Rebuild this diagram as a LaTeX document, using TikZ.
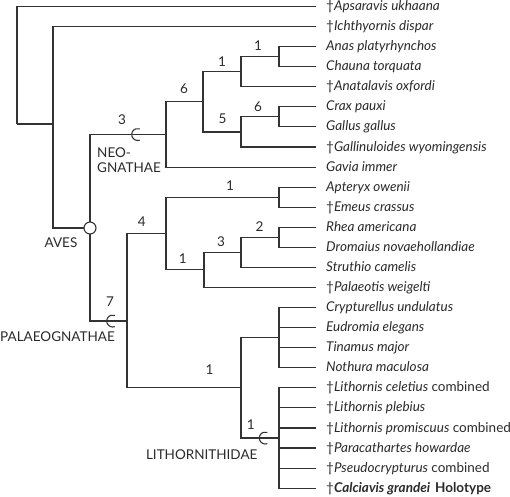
\documentclass[tikz,border=0pt]{standalone}
\usepackage{fontspec}
\setmainfont{Lato}
\definecolor{lc}{HTML}{333333}
\definecolor{tc}{HTML}{2A2A2A}
\begin{document}
\begin{tikzpicture}[x=1pt,y=-1pt,
  edge/.style={draw=lc, line width=1.1pt},
  leaf/.style={anchor=west, inner sep=0pt, text height=11pt, text depth=3pt, font=\fontsize{13.5}{15}\selectfont\itshape, text=tc},
  num/.style={inner sep=0pt, text=tc, font=\fontsize{13.5}{15}\selectfont},
  clade/.style={inner sep=0pt, text=tc, align=left, font=\fontsize{13.5}{15}\selectfont},
  avescircle/.style={circle, draw=lc, line width=1.1pt, fill=white, minimum size=12pt, inner sep=0pt},
  bracket/.style={draw=lc, line width=1.1pt}]
\useasboundingbox (0,0) rectangle (510,496);
% leaves
\node[leaf] (L0) at (326,6.5) {\upshape†\itshape Apsaravis ukhaana};
\node[leaf] (L1) at (326,26.6) {\upshape†\itshape Ichthyornis dispar};
\node[leaf] (L2) at (326,46.6) {Anas platyrhynchos};
\node[leaf] (L3) at (326,66.7) {Chauna torquata};
\node[leaf] (L4) at (326,86.8) {\upshape†\itshape Anatalavis oxfordi};
\node[leaf] (L5) at (326,106.9) {Crax pauxi};
\node[leaf] (L6) at (326,126.9) {Gallus gallus};
\node[leaf] (L7) at (326,147.0) {\upshape†\itshape Gallinuloides wyomingensis};
\node[leaf] (L8) at (326,167.1) {Gavia immer};
\node[leaf] (L9) at (326,187.1) {Apteryx owenii};
\node[leaf] (L10) at (326,207.2) {\upshape†\itshape Emeus crassus};
\node[leaf] (L11) at (326,227.3) {Rhea americana};
\node[leaf] (L12) at (326,247.3) {Dromaius novaehollandiae};
\node[leaf] (L13) at (326,267.4) {Struthio camelis};
\node[leaf] (L14) at (326,287.5) {\upshape†\itshape Palaeotis weigelti};
\node[leaf] (L15) at (326,307.6) {Crypturellus undulatus};
\node[leaf] (L16) at (326,327.6) {Eudromia elegans};
\node[leaf] (L17) at (326,347.7) {Tinamus major};
\node[leaf] (L18) at (326,367.8) {Nothura maculosa};
\node[leaf] (L19) at (326,387.8) {\upshape†\itshape Lithornis celetius\upshape\ combined};
\node[leaf] (L20) at (326,407.9) {\upshape†\itshape Lithornis plebius};
\node[leaf] (L21) at (326,428.0) {\upshape†\itshape Lithornis promiscuus\upshape\ combined};
\node[leaf] (L22) at (326,448.0) {\upshape†\itshape Paracathartes howardae};
\node[leaf] (L23) at (326,468.1) {\upshape†\itshape Pseudocrypturus\upshape\ combined};
\node[leaf] (L24) at (326,488.2) {\upshape†\bfseries\itshape Calciavis grandei\upshape\hspace{5pt}Holotype};
% internal nodes
\coordinate (root) at (17,124);
\coordinate (A1) at (53,124);
\coordinate (aves) at (90,228);
\coordinate (neo) at (166,134.5);
\coordinate (N1) at (203,101.8);
\coordinate (N2) at (241,71.7);
\coordinate (N3) at (279,56.65);
\coordinate (N4) at (241,131.95);
\coordinate (N5) at (279,116.9);
\coordinate (pal) at (127,321);
\coordinate (P1) at (166,233.6);
\coordinate (P2) at (279,197.2);
\coordinate (P3) at (204,269.9);
\coordinate (P4) at (241,252.4);
\coordinate (P5) at (279,237.3);
\coordinate (P6) at (241,387.9);
\coordinate (tin) at (279,337.7);
\coordinate (lith) at (279,438);
% edges
\path[edge] (root) |- ([xshift=-10pt]L0.west);
\path[edge] (root) -- (A1);
\path[edge] (A1) |- ([xshift=-10pt]L1.west);
\path[edge] (A1) |- (aves);
\path[edge] (aves) |- (neo);
\path[edge] (aves) |- (pal);
\path[edge] (neo) |- (N1);
\path[edge] (neo) |- ([xshift=-10pt]L8.west);
\path[edge] (N1) |- (N2);
\path[edge] (N1) |- (N4);
\path[edge] (N2) |- (N3);
\path[edge] (N2) |- ([xshift=-10pt]L4.west);
\path[edge] (N3) |- ([xshift=-10pt]L2.west);
\path[edge] (N3) |- ([xshift=-10pt]L3.west);
\path[edge] (N4) |- (N5);
\path[edge] (N4) |- ([xshift=-10pt]L7.west);
\path[edge] (N5) |- ([xshift=-10pt]L5.west);
\path[edge] (N5) |- ([xshift=-10pt]L6.west);
\path[edge] (pal) |- (P1);
\path[edge] (pal) |- (P6);
\path[edge] (P1) |- (P2);
\path[edge] (P1) |- (P3);
\path[edge] (P2) |- ([xshift=-10pt]L9.west);
\path[edge] (P2) |- ([xshift=-10pt]L10.west);
\path[edge] (P3) |- (P4);
\path[edge] (P3) |- ([xshift=-10pt]L14.west);
\path[edge] (P4) |- (P5);
\path[edge] (P4) |- ([xshift=-10pt]L13.west);
\path[edge] (P5) |- ([xshift=-10pt]L11.west);
\path[edge] (P5) |- ([xshift=-10pt]L12.west);
\path[edge] (P6) |- (tin);
\path[edge] (P6) |- (lith);
\foreach \i in {15,16,17,18} {\path[edge] (tin) |- ([xshift=-10pt]L\i.west);}
\foreach \i in {19,20,21,22,23,24} {\path[edge] (lith) |- ([xshift=-10pt]L\i.west);}
% Aves circle
\node[avescircle] (avesc) at (aves) {};
% brackets
\coordinate (bkneo) at (137.7,134.5);
\coordinate (bkpal) at (112.7,321);
\coordinate (bklith) at (265.3,438);
\foreach \b in {bkneo,bkpal,bklith} {\path[bracket] (\b) ++(70:6) arc[start angle=70,end angle=290,radius=6];}
% support numbers
\node[num] (s1) at (122,119.5) {3};
\node[num] (s2) at (184,89) {6};
\node[num] (s3) at (222,62) {1};
\node[num] (s4) at (258,45.5) {1};
\node[num] (s5) at (222.5,119) {5};
\node[num] (s6) at (258,106.5) {6};
\node[num] (s7) at (141.7,221.5) {4};
\node[num] (s8) at (230,185.5) {1};
\node[num] (s9) at (259.5,226.5) {2};
\node[num] (s10) at (221,241.5) {3};
\node[num] (s11) at (182.7,259) {1};
\node[num] (s12) at (110,301.5) {7};
\node[num] (s13) at (209.5,370) {1};
\node[num] (s14) at (250.7,425) {1};
% clade names
\node[clade, anchor=west] (neoname) at (97,152.5) {NEO-};
\node[clade, anchor=west] (neoname2) at (97,167.3) {GNATHAE};
\node[clade] (avesname) at (61,242.5) {AVES};
\node[clade, anchor=west] (palname) at (0,336.7) {PALAEOGNATHAE};
\node[clade] (lithname) at (201.7,455) {LITHORNITHIDAE};
\end{tikzpicture}
\end{document}
